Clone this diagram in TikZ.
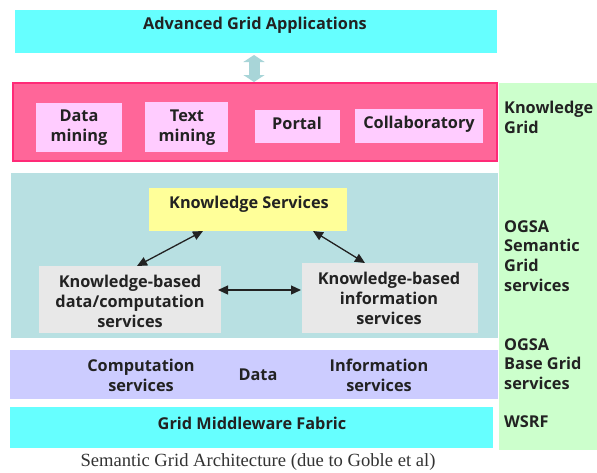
\documentclass[tikz,border=0pt]{standalone}
\usepackage{fontspec}
\setmainfont{Liberation Serif}
\newfontfamily\lab{Open Sans}[BoldFont={Open Sans Bold}]
\usetikzlibrary{arrows.meta}
\definecolor{cyanbox}{HTML}{66FFFF}
\definecolor{pinkfill}{HTML}{FF6699}
\definecolor{pinkline}{HTML}{FF2A77}
\definecolor{pinkinner}{HTML}{FFCCFF}
\definecolor{greencol}{HTML}{CCFFCC}
\definecolor{tealbox}{HTML}{B8E0E2}
\definecolor{yellowbox}{HTML}{FFFF99}
\definecolor{graybox}{HTML}{E8E8E8}
\definecolor{purplebox}{HTML}{CCCCFF}
\definecolor{arrowteal}{HTML}{A8D5D8}
\definecolor{ink}{HTML}{222222}
\begin{document}
\begin{tikzpicture}[x=1pt,y=-1pt,
  txt/.style={font=\lab\bfseries\fontsize{16.3}{20}\selectfont, text=ink, align=center, inner sep=0pt},
  sidetxt/.style={font=\lab\bfseries\fontsize{16.3}{19.7}\selectfont, text=ink, align=left, inner sep=0pt, anchor=north west},
  inbox/.style={fill=pinkinner, draw=none},
  dbl/.style={{Triangle[length=10pt,width=9pt]}-{Triangle[length=10pt,width=9pt]}, line width=1.3pt, ink}]
\useasboundingbox (0,0) rectangle (597,472);
\fill[white] (0,0) rectangle (597,472);
% green column
\fill[greencol] (499,83) rectangle (597,450);
% top box
\fill[cyanbox] (15,10) rectangle (497,53);
\node[txt] (apps) at (255,25) {Advanced Grid Applications};
% pink box
\draw[fill=pinkfill, draw=pinkline, line width=1.4pt] (13,83) rectangle (497,161);
\fill[inbox] (36,103) rectangle (122,152);
\node[txt] (dm) at (79,128) {Data\\mining};
\fill[inbox] (145,102) rectangle (228,152);
\node[txt] (tm) at (187,127.5) {Text\\mining};
\fill[inbox] (255,110) rectangle (340,143);
\node[txt] (portal) at (297,123.5) {Portal};
\fill[inbox] (355,109) rectangle (483,143);
\node[txt] (collab) at (419,124.5) {Collaboratory};
% connector top
\coordinate (atop) at (254,55);
\coordinate (abot) at (254,82);
\draw[arrowteal, line width=11pt, {Triangle[length=7pt,width=21pt]}-{Triangle[length=7pt,width=21pt]}] (atop) -- (abot);
% teal box
\fill[tealbox] (11,173) rectangle (498,338);
\fill[yellowbox] (149,188) rectangle (347,231);
\node[txt] (ks) at (249,204) {Knowledge Services};
\fill[graybox] (39,266) rectangle (221,333);
\node[txt] (kbd) at (130,301) {Knowledge-based\\data/computation\\services};
\fill[graybox] (302,263) rectangle (478,333);
\node[txt] (kbi) at (389,298) {Knowledge-based\\information\\services};
\coordinate (ks1) at (203,231);
\coordinate (kbd1) at (137,266);
\coordinate (ks2) at (313,231);
\coordinate (kbi1) at (365,263);
\coordinate (kbd2) at (218,290);
\coordinate (kbi2) at (301,290);
\draw[dbl] (ks1) -- (kbd1);
\draw[dbl] (ks2) -- (kbi1);
\draw[dbl] (kbd2) -- (kbi2);
% purple band
\fill[purplebox] (10,350) rectangle (498,399);
\node[txt] (comp) at (141,375.5) {Computation\\services};
\node[txt] (data) at (258,375) {Data};
\node[txt] (info) at (379,375.5) {Information\\services};
% bottom cyan
\fill[cyanbox] (10,407) rectangle (493,448);
\node[txt] (fabric) at (252,423) {Grid Middleware Fabric};
% side labels
\node[sidetxt] (kg) at (504,101) {Knowledge\\Grid};
\node[sidetxt] (ogsa1) at (504,220) {OGSA\\Semantic\\Grid\\services};
\node[sidetxt] (ogsa2) at (504,338) {OGSA\\Base Grid\\services};
\node[sidetxt] (wsrf) at (504,415) {WSRF};
% caption
\node[font=\fontsize{18.6}{20}\selectfont, inner sep=0pt, text=black!80] (cap) at (258,462) {Semantic Grid Architecture (due to Goble et al)};
\end{tikzpicture}
\end{document}
